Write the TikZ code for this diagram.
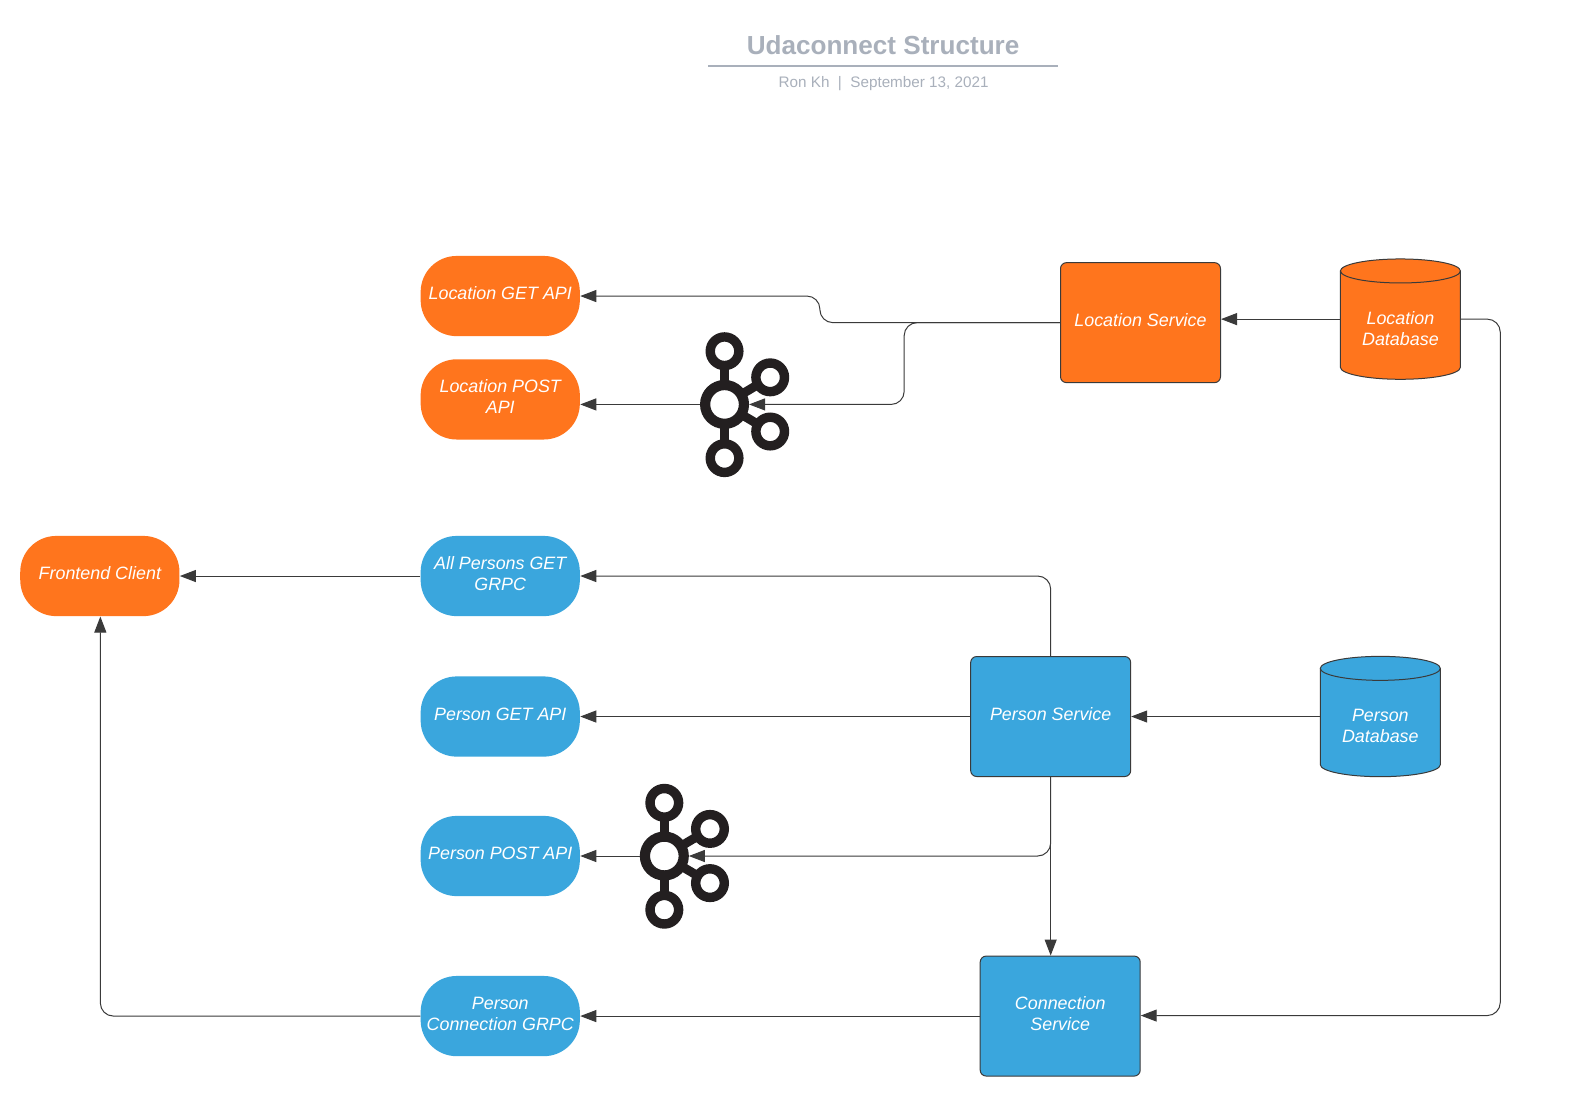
\documentclass[tikz,border=0pt]{standalone}
\usepackage{fontspec}
\setmainfont{Liberation Sans}
\usetikzlibrary{arrows.meta}
\definecolor{orng}{HTML}{FF751D}
\definecolor{blu}{HTML}{3AA6DD}
\definecolor{edge}{HTML}{3A3A3A}
\definecolor{ink}{HTML}{231F20}
\definecolor{ttl}{HTML}{A9B0BB}
\newcommand\tx[2][-2bp]{\raisebox{#1}[0pt][0pt]{\fontsize{8.98}{10.58}\selectfont\itshape\begin{tabular}[c]{@{}c@{}}#2\end{tabular}}}
\newcommand\kafkaicon[3]{%
  \begin{scope}[shift={(#2,#3)}]
    \draw[spoke] (0,-53) -- (0,53.5);
    \draw[spoke] (0,0) -- (45.5,-27);
    \draw[spoke] (0,0) -- (45.5,27);
    \node[ksat] (#1a) at (0,-53) {};
    \node[ksat] (#1b) at (45.5,-27) {};
    \node[ksat] (#1c) at (45.5,27) {};
    \node[ksat] (#1d) at (0,53.5) {};
    \node[khub] (#1) at (0,0) {};
  \end{scope}}
\newcommand\dbshape[3]{%
  \fill[#3] (#1-59.8,#2-48) -- (#1-59.8,#2+48) arc[x radius=30bp,y radius=6bp,start angle=180,end angle=360] -- (#1+59.8,#2-48) arc[x radius=30bp,y radius=6bp,start angle=0,end angle=180] -- cycle;
  \draw[dbline] (#1-59.8,#2-48) -- (#1-59.8,#2+48) arc[x radius=30bp,y radius=6bp,start angle=180,end angle=360] -- (#1+59.8,#2-48);
  \draw[dbline] (#1,#2-48) ellipse[x radius=30bp,y radius=6bp];}
\tikzset{
  pill/.style={rounded corners=18bp,minimum width=79.6bp,minimum height=40.1bp,inner sep=0pt,text=white},
  boxn/.style={draw=edge,line width=.5bp,rounded corners=3bp,minimum width=80bp,minimum height=60bp,inner sep=0pt,text=white},
  dbtext/.style={minimum width=60bp,minimum height=60bp,inner sep=0pt,text=white},
  dbline/.style={draw=edge,line width=.5bp},
  conn/.style={draw=edge,line width=.5bp,rounded corners=6.5bp,-{Triangle[length=8bp,width=6bp]}},
  spoke/.style={draw=ink,line width=4.5bp},
  ksat/.style={circle,draw=ink,fill=white,line width=4.7bp,minimum size=14.3bp,inner sep=0pt},
  khub/.style={circle,draw=ink,fill=white,line width=5.1bp,minimum size=19.4bp,inner sep=0pt},
}
\begin{document}
\begin{tikzpicture}[x=0.50175bp,y=-0.50175bp]
\useasboundingbox[fill=white] (0,0) rectangle (1567.5,1112.1);
% title
\node[text=ttl,font=\fontsize{13.1}{15}\selectfont\bfseries] (title) at (880,45) {Udaconnect Structure};
\coordinate (ruleL) at (706,65.5);
\coordinate (ruleR) at (1054.5,65.5);
\draw[ttl,line width=1bp] (ruleL) -- (ruleR);
\node[text=ttl,font=\fontsize{7.65}{9}\selectfont] (sub) at (880.5,83.5) {Ron Kh\ \ |\ \ September 13, 2021};
% pills
\node[pill,fill=orng] (fe) at (99.5,574) {\tx{Frontend Client}};
\node[pill,fill=orng] (lg) at (498.5,295) {\tx{Location GET API}};
\node[pill,fill=orng] (lp) at (498.5,398) {\tx{Location POST\\API}};
\node[pill,fill=blu] (ap) at (498.5,574) {\tx{All Persons GET\\GRPC}};
\node[pill,fill=blu] (pg) at (498.5,714) {\tx{Person GET API}};
\node[pill,fill=blu] (pp) at (498.5,853) {\tx{Person POST API}};
\node[pill,fill=blu] (pc) at (498.5,1012.5) {\tx{Person\\Connection GRPC}};
% services
\node[boxn,fill=orng] (ls) at (1136.5,321.5) {\tx{Location Service}};
\node[boxn,fill=blu] (ps) at (1047,714) {\tx{Person Service}};
\node[boxn,fill=blu] (cs) at (1056.5,1012.5) {\tx{Connection\\Service}};
% databases
\dbshape{1395.5}{318}{orng}
\dbshape{1375.5}{714}{blu}
\node[dbtext] (ld) at (1395.5,318) {\tx[-8bp]{Location\\Database}};
\node[dbtext] (pd) at (1375.5,714) {\tx[-8bp]{Person\\Database}};
% kafka
\kafkaicon{ka}{722}{403}
\kafkaicon{kb}{662}{853}
% connectors
\coordinate (a1) at (817,321.5);
\coordinate (a2) at (817,295);
\draw[conn] (ls.west) -- (a1) -- (a2) -- (lg.east);
\coordinate (b1) at (901,321.5);
\coordinate (b2) at (901,403);
\draw[conn] (ls.west) -- (b1) -- (b2) -- (ka.east |- b2);
\draw[conn] (ka.west) -- (ka.west -| lp.east);
\draw[conn] (ld.west) -- (ld.west -| ls.east);
\coordinate (c1) at (1495,318);
\coordinate (c2) at (1495,1012);
\draw[conn] (ld.east) -- (c1) -- (c2) -- (c2 -| cs.east);
\draw[conn] (cs.west) -- (pc.east);
\coordinate (d1) at (100,1012.5);
\draw[conn] (pc.west) -- (d1) -- (d1 |- fe.south);
\draw[conn] (ap.west) -- (fe.east);
\coordinate (e1) at (1047,574);
\draw[conn] (ps.north) -- (e1) -- (ap.east);
\draw[conn] (ps.west) -- (pg.east);
\draw[conn] (pd.west) -- (ps.east);
\coordinate (f1) at (1047,853);
\draw[conn] (ps.south) -- (f1) -- (kb.east |- f1);
\draw[conn] (ps.south) -- (ps.south |- cs.north);
\draw[conn] (kb.west) -- (kb.west -| pp.east);
\end{tikzpicture}
\end{document}
